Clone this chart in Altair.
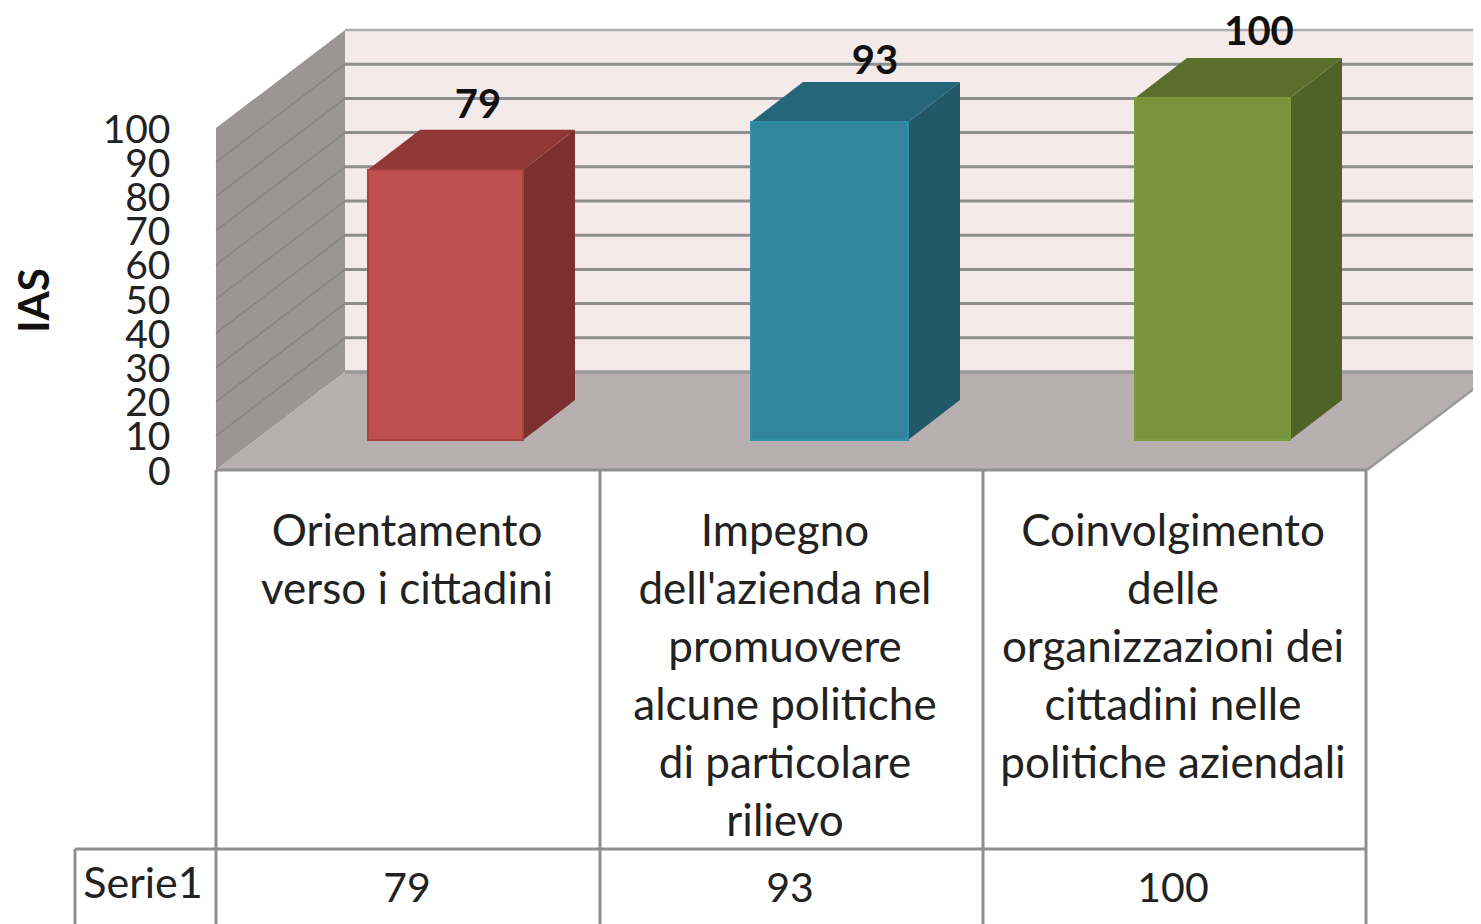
import altair as alt
import pandas as pd

# ---- chart values ----
categories = ["Orientamento\nverso i cittadini",
              "Impegno\ndell'azienda nel\npromuovere\nalcune politiche\ndi particolare\nrilievo",
              "Coinvolgimento\ndelle\norganizzazioni dei\ncittadini nelle\npolitiche aziendali"]
values = [79, 93, 100]
series_name = "Serie1"
axis_title = "IAS"
ticks = [0, 10, 20, 30, 40, 50, 60, 70, 80, 90, 100]

# ---- styles and layout ----
front_col = ["#C0504D", "#31859C", "#77933C"]
top_col = ["#8F3836", "#25657A", "#5C6E2C"]
side_col = ["#7C2F2E", "#215968", "#4F6228"]
edge_col = ["#A8423F", "#2F8FAB", "#7A9A3C"]
bar_left = [368, 751, 1135]
bar_right = [523, 908, 1290]
label_x = [478, 875, 1259]
label_gap = [24, 20, 25]
col_center = [407, 785, 1173]
value_center = [407, 790, 1173]
col_edges = [216, 600, 983, 1366]
FONT = "Lato"
TXT = "#222222"
GRID = "#8E8E8E"
PX = 3.42
DX, DY = 52, 40
W, H = 1465, 916


def Y(p):
    """Image row -> value on the chart's y scale."""
    return (470 - p) / PX


xs = alt.Scale(domain=[8, 8 + W], range=[0, W], nice=False, zero=False)
ys = alt.Scale(domain=[Y(8 + H), Y(8)], range=[H, 0], nice=False, zero=False)
y_axis = alt.Axis(
    values=ticks, title=axis_title, domain=False, ticks=False, grid=False, labelOverlap=False,
    offset=-162, labelPadding=0, labelOffset=2, labelFont=FONT, labelFontSize=39, labelColor=TXT,
    labelFlush=False,
    titleFont=FONT, titleFontSize=42, titleFontWeight="bold", titleColor="#111111",
    titleAngle=270, titleX=-135, titleY=292, titleAlign="center", titleBaseline="middle",
    format="d")
X = lambda f="x": alt.X(f"{f}:Q", scale=xs, axis=None)
Yc = lambda f="y": alt.Y(f"{f}:Q", scale=ys, axis=y_axis)

layers = []

# left wall
wall = pd.DataFrame({"x": [216, 345], "y": [Y(128), Y(30)], "y2": [Y(470), Y(372)]})
layers.append(alt.Chart(wall).mark_area(orient="vertical", color="#9C9595", clip=True).encode(
    x=X(), y=Yc(), y2="y2:Q"))

# floor
floor = pd.DataFrame({"y": [Y(470), Y(372)], "x": [216, 345], "x2": [1367, 1496]})
layers.append(alt.Chart(floor).mark_area(orient="horizontal", color="#B8B0B0", clip=True).encode(
    y=Yc(), x=X(), x2="x2:Q"))

# back wall
back = pd.DataFrame({"x": [345, 1490], "y": [Y(30)] * 2, "y2": [Y(372)] * 2})
layers.append(alt.Chart(back).mark_area(orient="vertical", color="#F5EAEA", clip=True).encode(
    x=X(), y=Yc(), y2="y2:Q"))

# gridlines on back wall and left wall
grid = pd.DataFrame({"t": ticks})
grid["yb"] = grid["t"] + Y(372)
grid["yf"] = grid["t"]
grid["x0"] = 345
grid["x1"] = 1490
grid["xl"] = 216
layers.append(alt.Chart(grid[grid.t < 100]).mark_rule(color=GRID, strokeWidth=3, clip=True).encode(
    x=X("x0"), x2="x1:Q", y=Yc("yb")))
layers.append(alt.Chart(grid[grid.t == 100]).mark_rule(color="#ABABAB", strokeWidth=2.5, clip=True).encode(
    x=X("x0"), x2="x1:Q", y=Yc("yb")))
layers.append(alt.Chart(grid[(grid.t > 0) & (grid.t < 100)]).mark_rule(color="#868484", strokeWidth=1.5, clip=True).encode(
    x=X("xl"), x2="x0:Q", y=Yc("yf"), y2="yb:Q"))

# floor edges
layers.append(alt.Chart(pd.DataFrame({"x": [1367], "x2": [1496], "y": [Y(470)], "y2": [Y(372)]}))
              .mark_rule(color="#999999", strokeWidth=2.5, clip=True)
              .encode(x=X(), x2="x2:Q", y=Yc(), y2="y2:Q"))
layers.append(alt.Chart(pd.DataFrame({"x": [345], "x2": [1490], "y": [Y(372)]}))
              .mark_rule(color="#999999", strokeWidth=3, clip=True)
              .encode(x=X(), x2="x2:Q", y=Yc()))

# 3D bars
lift = Y(440)
for i, v in enumerate(values):
    top = lift + v
    d = DY / PX
    side = pd.DataFrame({"x": [bar_right[i], bar_right[i] + DX],
                         "y": [top, top + d], "y2": [lift, lift + d]})
    layers.append(alt.Chart(side).mark_area(orient="vertical", color=side_col[i]).encode(
        x=X(), y=Yc(), y2="y2:Q"))
    tp = pd.DataFrame({"y": [top, top + d], "x": [bar_left[i], bar_left[i] + DX],
                       "x2": [bar_right[i], bar_right[i] + DX]})
    layers.append(alt.Chart(tp).mark_area(orient="horizontal", color=top_col[i]).encode(
        y=Yc(), x=X(), x2="x2:Q"))
    fr = pd.DataFrame({"x": [bar_left[i]], "x2": [bar_right[i]], "y": [lift], "y2": [top]})
    layers.append(alt.Chart(fr).mark_rect(color=front_col[i], stroke=edge_col[i], strokeWidth=2).encode(
        x=X(), x2="x2:Q", y=Yc(), y2="y2:Q"))

# data labels
dl = pd.DataFrame({"v": values, "x": label_x, "gap": label_gap})
dl["y"] = lift + dl["v"] + (DY + dl["gap"]) / PX
layers.append(alt.Chart(dl).mark_text(font=FONT, fontSize=40, fontWeight="bold", color="#111111",
                                      baseline="middle", align="center").encode(
    x=X(), y=Yc(), text="v:Q"))

# data table grid
hl = pd.DataFrame({"x": [216, 75], "x2": [1367, 1367], "y": [Y(470), Y(849)]})
layers.append(alt.Chart(hl).mark_rule(color="#8F8F8F", strokeWidth=3).encode(x=X(), x2="x2:Q", y=Yc()))
vl = pd.DataFrame({"x": col_edges + [75], "y": [Y(470)] * 4 + [Y(849)], "y2": [Y(8 + H)] * 5})
layers.append(alt.Chart(vl).mark_rule(color="#8F8F8F", strokeWidth=3).encode(x=X(), y=Yc(), y2="y2:Q"))

# data table text
cat = pd.DataFrame({"t": categories, "x": col_center, "y": [Y(533)] * 3})
layers.append(alt.Chart(cat).mark_text(font=FONT, fontSize=44, color=TXT, align="center",
                                       baseline="middle", lineBreak="\n", lineHeight=58).encode(
    x=X(), y=Yc(), text="t:N"))
vals = pd.DataFrame({"t": values, "x": value_center, "y": [Y(890)] * 3})
layers.append(alt.Chart(vals).mark_text(font=FONT, fontSize=41, color=TXT, align="center",
                                        baseline="middle").encode(x=X(), y=Yc(), text="t:Q"))
ser = pd.DataFrame({"t": [series_name], "x": [143], "y": [Y(885)]})
layers.append(alt.Chart(ser).mark_text(font=FONT, fontSize=43, color=TXT, align="center",
                                       baseline="middle").encode(x=X(), y=Yc(), text="t:N"))

chart = alt.layer(*layers).properties(
    width=W, height=H, padding=0, autosize=alt.AutoSizeParams(type="none"), background="white"
).configure_view(stroke=None)

chart.save("out.html", embed_options={"renderer": "svg", "actions": False})
